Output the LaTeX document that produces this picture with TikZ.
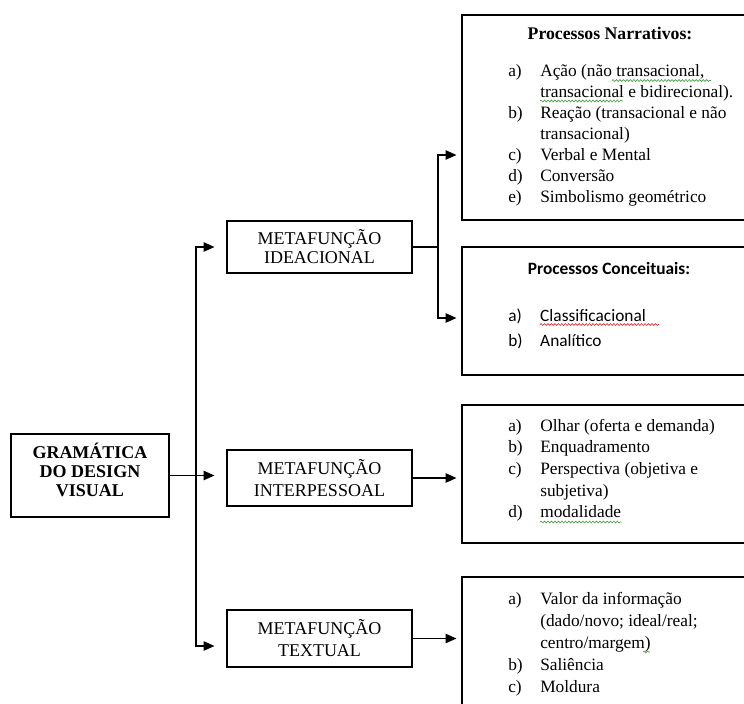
\documentclass[tikz,border=0pt]{standalone}
\usepackage{fontspec}
\setmainfont{Liberation Serif}
\newfontfamily\calibri{Carlito}
\usetikzlibrary{arrows.meta,calc,decorations.pathmorphing}

\definecolor{spellgreen}{RGB}{70,160,70}
\definecolor{spellred}{RGB}{225,45,45}

\tikzset{
  funcbox/.style={draw, line width=0.9pt, inner sep=0pt, align=center, minimum width=138.75pt},
  listbox/.style={draw, line width=0.9pt, inner sep=0pt, minimum width=223.5pt},
  link/.style={line width=0.8pt, -{Triangle[length=8pt,width=7pt]}},
  spell/.style={draw=#1, line width=0.5pt, decorate,
                decoration={snake, segment length=2.6pt, amplitude=0.7pt}},
}

\begin{document}
\begin{tikzpicture}[x=0.75pt,y=-0.75pt]
  \useasboundingbox (0,0) rectangle (744,704);
  \clip (0,0) rectangle (744,704);

  % left column
  \node[funcbox, minimum width=118.5pt, minimum height=62.25pt,
        font=\fontsize{13.5}{14.25}\selectfont\bfseries] (gram) at (90,475.5)
        {GRAMÁTICA\\DO DESIGN\\VISUAL\rule[-9pt]{0pt}{9pt}};

  \node[funcbox, minimum height=39pt, font=\fontsize{13.5}{14.25}\selectfont] (ideac) at (319.5,247)
        {METAFUNÇÃO\\IDEACIONAL};
  \node[funcbox, minimum height=42pt, font=\fontsize{13.5}{16.5}\selectfont] (inter) at (319.5,478)
        {METAFUNÇÃO\\INTERPESSOAL};
  \node[funcbox, minimum height=42.75pt, font=\fontsize{13.5}{16.5}\selectfont] (textu) at (319.5,638.5)
        {METAFUNÇÃO\\TEXTUAL};

  % right column
  \node[listbox, minimum height=153.75pt] (narr) at (611,117.5) {};
  \node[listbox, minimum height=96pt] (conc) at (611,311) {};
  \node[listbox, minimum height=103.5pt] (interl) at (611,474) {};
  \node[listbox, minimum height=122.25pt] (textl) at (611,658.5) {};

  \node[anchor=base, inner sep=0pt, font=\fontsize{13.3}{16}\selectfont\bfseries] (narrhead) at (610,39)
        {Processos Narrativos:};
  \node[anchor=base west, inner sep=0pt, font=\fontsize{13}{15.8}\selectfont] (narrlist) at (508,76)
        {\begin{tabular}[t]{@{}p{24pt}@{}l@{}}
          a) & Ação (não transacional,\\
             & transacional e bidirecional).\\
          b) & Reação (transacional e não\\
             & transacional)\\
          c) & Verbal e Mental\\
          d) & Conversão\\
          e) & Simbolismo geométrico
        \end{tabular}};

  \node[anchor=base, inner sep=0pt, font=\calibri\fontsize{13}{16}\selectfont\bfseries] (conchead) at (609,274)
        {Processos Conceituais:};
  \node[anchor=base west, inner sep=0pt, font=\calibri\fontsize{13}{18.75}\selectfont] (conclist) at (508,321)
        {\begin{tabular}[t]{@{}p{24pt}@{}l@{}}
          a) & Classificacional\\
          b) & Analítico
        \end{tabular}};

  \node[anchor=base west, inner sep=0pt, font=\fontsize{13}{16.3}\selectfont] (interitems) at (508,431)
        {\begin{tabular}[t]{@{}p{24pt}@{}l@{}}
          a) & Olhar (oferta e demanda)\\
          b) & Enquadramento\\
          c) & Perspectiva (objetiva e\\
             & subjetiva)\\
          d) & modalidade
        \end{tabular}};

  \node[anchor=base west, inner sep=0pt, font=\fontsize{13}{16.5}\selectfont] (textitems) at (508,604)
        {\begin{tabular}[t]{@{}p{24pt}@{}l@{}}
          a) & Valor da informação\\
             & (dado/novo; ideal/real;\\
             & centro/margem)\\
          b) & Saliência\\
          c) & Moldura
        \end{tabular}};

  % spell checker marks
  \draw[spell=spellgreen] (612,80.5) -- (711,80.5);
  \draw[spell=spellgreen] (540,101) -- (623,101);
  \draw[spell=spellred] (540,324.5) -- (659,324.5);
  \draw[spell=spellgreen] (540,522) -- (621,522);
  \draw[spell=spellgreen] (643,652) -- (650,652);

  % connectors
  \coordinate (split) at (196,476);
  \coordinate (fork) at (438,247);
  \draw[link, shorten >=9pt] (gram.east) -- (gram.east -| inter.west);
  \draw[link, shorten >=9pt] (split) |- (ideac.west);
  \draw[link, shorten >=9pt] (split) |- ($(textu.west)+(0,7.5)$);

  \draw[line width=0.8pt] (ideac.east) -- (fork);
  \draw[link, shorten >=3.75pt] (fork) |- ($(narr.west)+(0,37.5)$);
  \draw[link, shorten >=3.75pt] (fork) |- ($(conc.west)+(0,7)$);
  \draw[link, shorten >=3.75pt] (inter.east) -- (inter.east -| interl.west);
  \draw[link, shorten >=3.75pt] (textu.east) -- (textu.east -| textl.west);
\end{tikzpicture}
\end{document}
